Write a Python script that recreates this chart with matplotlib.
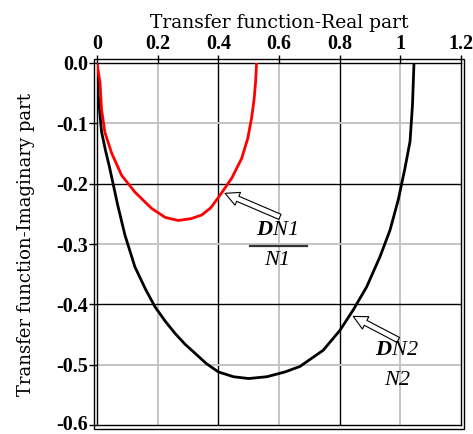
import matplotlib
matplotlib.use("Agg")
import matplotlib.pyplot as plt
from matplotlib.patches import Rectangle, FancyArrowPatch
from matplotlib.ticker import FixedLocator
from matplotlib.transforms import ScaledTranslation

# Nyquist curves (real, imaginary) of the two transfer functions
n1_real = [0.0, 0.010, 0.015, 0.026, 0.048, 0.081, 0.125, 0.180, 0.225, 0.268,
           0.310, 0.345, 0.375, 0.400, 0.425, 0.444, 0.477, 0.497, 0.510, 0.518, 0.523, 0.526]
n1_imag = [0.0, -0.033, -0.077, -0.115, -0.149, -0.186, -0.214, -0.241, -0.256, -0.261,
           -0.258, -0.252, -0.240, -0.223, -0.205, -0.191, -0.158, -0.125, -0.090, -0.060, -0.030, 0.0]

n2_real = [0.0, 0.004, 0.015, 0.028, 0.040, 0.053, 0.068, 0.092, 0.125, 0.160, 0.191, 0.225,
           0.257, 0.290, 0.323, 0.360, 0.400, 0.450, 0.500, 0.560, 0.620, 0.669, 0.746,
           0.801, 0.845, 0.889, 0.933, 0.966, 0.993, 1.015, 1.032, 1.040, 1.045]
n2_imag = [0.0, -0.053, -0.114, -0.145, -0.170, -0.200, -0.235, -0.285, -0.338, -0.375, -0.404, -0.428,
           -0.448, -0.466, -0.481, -0.498, -0.512, -0.520, -0.523, -0.520, -0.512, -0.503, -0.476,
           -0.443, -0.409, -0.371, -0.321, -0.277, -0.227, -0.175, -0.130, -0.070, 0.0]

x_ticks = [0, 0.2, 0.4, 0.6, 0.8, 1.0, 1.2]
x_tick_labels = ["0", "0.2", "0.4", "0.6", "0.8", "1", "1.2"]
y_ticks = [0.0, -0.1, -0.2, -0.3, -0.4, -0.5, -0.6]
y_tick_labels = ["0.0", "-0.1", "-0.2", "-0.3", "-0.4", "-0.5", "-0.6"]

plt.rcParams["font.family"] = ["Liberation Serif", "DejaVu Serif"]
plt.rcParams["mathtext.fontset"] = "custom"
plt.rcParams["mathtext.bf"] = "Liberation Serif:italic:bold"
plt.rcParams["mathtext.it"] = "Liberation Serif:italic"
plt.rcParams["mathtext.rm"] = "Liberation Serif"

fig = plt.figure(figsize=(4.73, 4.34), dpi=100)
ax = fig.add_axes([97 / 473, 1 - 425 / 434, (461 - 97) / 473, (425 - 63) / 434])

ax.set_xlim(0, 1.2)
ax.set_ylim(-0.6, 0.0)

# grid: black major lines, light grey minor lines
ax.xaxis.set_major_locator(FixedLocator(x_ticks))
ax.yaxis.set_major_locator(FixedLocator(y_ticks))
for v in [0.2, 0.6, 1.0]:
    ax.axvline(v, color="#c4c4c4", lw=1.4, zorder=0)
for v in [0.4, 0.8]:
    ax.axvline(v, color="black", lw=1.0, zorder=0)
for v in [-0.1, -0.3, -0.5]:
    ax.axhline(v, color="#c4c4c4", lw=1.4, zorder=0)
for v in [-0.2, -0.4]:
    ax.axhline(v, color="black", lw=1.0, zorder=0)

ax.xaxis.tick_top()
ax.xaxis.set_label_position("top")
ax.set_xticklabels(x_tick_labels, fontsize=14.5, fontweight="bold")
ax.set_yticklabels(y_tick_labels, fontsize=14.5, fontweight="bold")
ax.tick_params(axis="both", direction="out", length=5.5, width=1, pad=1, color="black")

# lift the lowest y label a little so it stays inside the figure
low = ax.get_yticklabels()[-1]
low.set_transform(low.get_transform() + ScaledTranslation(0, 3 / 100, fig.dpi_scale_trans))

ax.set_xlabel("Transfer function-Real part", fontsize=13.5, family="DejaVu Serif", labelpad=4)
ax.set_ylabel("Transfer function-Imaginary part", fontsize=13, family="DejaVu Serif", labelpad=15)

for s in ax.spines.values():
    s.set_linewidth(1.0)
    s.set_color("black")

ax.plot(n2_real, n2_imag, color="black", lw=2.0, zorder=3)
ax.plot(n1_real, n1_imag, color="#ff0000", lw=2.0, zorder=3)

# hollow arrows pointing at the curves
for tail, tip in [((0.603, -0.255), (0.422, -0.216)), ((0.993, -0.459), (0.845, -0.420))]:
    arr = FancyArrowPatch(tail, tip, arrowstyle="simple,head_width=10,head_length=10,tail_width=4",
                          facecolor="white", edgecolor="black", lw=0.8, zorder=4, mutation_scale=1,
                          shrinkA=0, shrinkB=0)
    ax.add_patch(arr)

# ratio labels: bold italic D followed by italic N<k>
ax.text(0.593, -0.278, r"$\mathbf{D}$N1", fontsize=16, style="italic", ha="center", va="center", zorder=5)
ax.plot([0.504, 0.693], [-0.304, -0.304], color="#333333", lw=1.6, zorder=5)
ax.text(0.595, -0.327, "N1", fontsize=16, style="italic", ha="center", va="center", zorder=5)

ax.text(0.988, -0.476, r"$\mathbf{D}$N2", fontsize=16, style="italic", ha="center", va="center", zorder=5)
ax.text(0.991, -0.527, "N2", fontsize=16, style="italic", ha="center", va="center", zorder=5)

# outer line of the double frame
pad_x = 3 / 473
pad_y = 4 / 434
b = ax.get_position()
fig.add_artist(Rectangle((b.x0 - pad_x, b.y0 - pad_y), b.width + 2 * pad_x, b.height + 2 * pad_y,
                         transform=fig.transFigure, fill=False, edgecolor="black", lw=1.0))

fig.savefig("out.png", dpi=100)
